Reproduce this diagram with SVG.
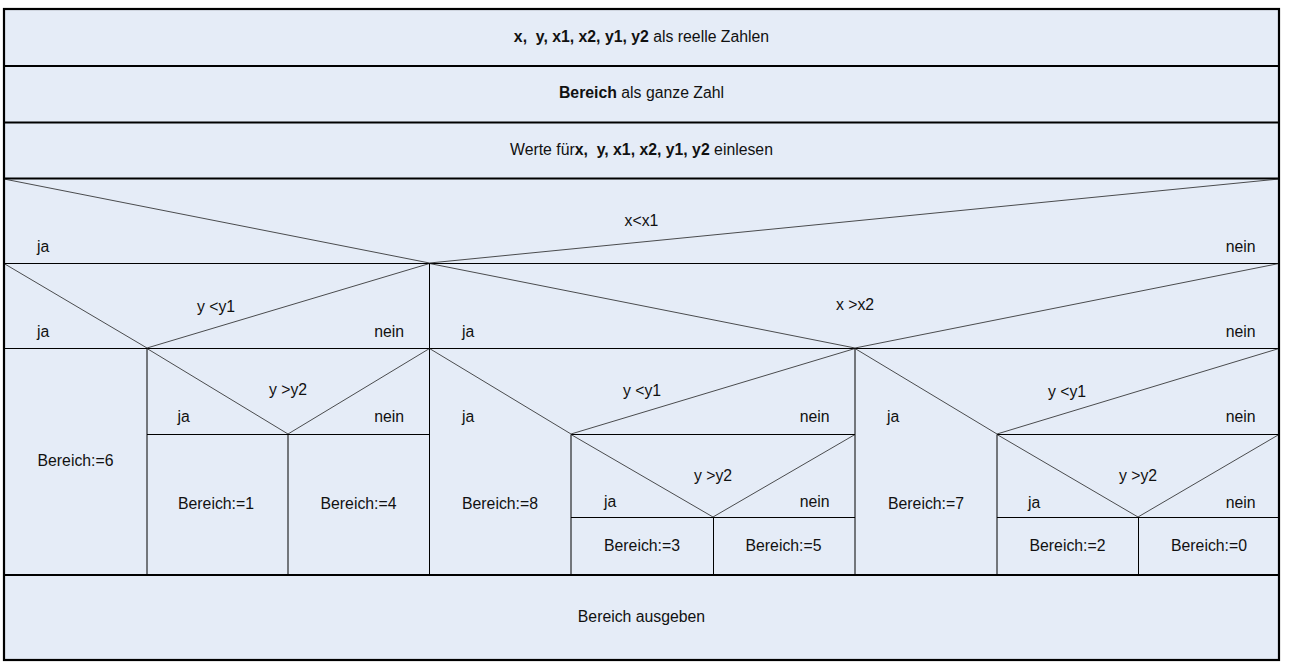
<svg xmlns="http://www.w3.org/2000/svg" width="1289" height="666" viewBox="0 0 1289 666">
<style>
text{font-family:"Liberation Sans",Arial,Helvetica,sans-serif;font-size:15.8px;fill:#111;}
.c{text-anchor:middle;}
.e{text-anchor:end;}
.b{font-weight:bold;}
.ln{stroke:#000;stroke-width:1;fill:none;}
.dg{stroke:#222;stroke-width:0.8;fill:none;}
.tk{stroke:#000;stroke-width:2.2;fill:none;}
</style>
<rect x="0" y="0" width="1289" height="666" fill="#ffffff"/>
<rect x="4" y="9" width="1275" height="651" fill="#e5ecf7"/>

<g id="decl1">
<text class="c" x="641.5" y="42" xml:space="preserve"><tspan class="b">x,  y, x1, x2, y1, y2</tspan> als reelle Zahlen</text>
</g>
<g id="decl2">
<line class="tk" x1="4" y1="66" x2="1279" y2="66"/>
<text class="c" x="641.5" y="98"><tspan class="b">Bereich</tspan> als ganze Zahl</text>
</g>
<g id="input">
<line class="tk" x1="4" y1="122.5" x2="1279" y2="122.5" stroke-width="2.6"/>
<text class="c" x="641.5" y="154.5" xml:space="preserve">Werte für<tspan class="b">x,  y, x1, x2, y1, y2</tspan> einlesen</text>
</g>

<g id="if-x-lt-x1">
<line class="tk" x1="4" y1="178.5" x2="1279" y2="178.5"/>
<line class="dg" x1="4" y1="179" x2="429.5" y2="263"/>
<line class="dg" x1="429.5" y1="263" x2="1279" y2="179"/>
<text class="c" x="641.5" y="226">x&lt;x1</text>
<text x="37" y="252">ja</text>
<text class="e" x="1255.5" y="252">nein</text>
<line class="ln" x1="4" y1="263.5" x2="1279" y2="263.5"/>
</g>

<g id="if-y-lt-y1-a">
<line class="dg" x1="4" y1="263.5" x2="147" y2="348"/>
<line class="dg" x1="147" y1="348" x2="429.5" y2="263.5"/>
<text class="c" x="216" y="311.5">y &lt;y1</text>
<text x="37" y="337">ja</text>
<text class="e" x="404" y="337">nein</text>
</g>

<g id="if-x-gt-x2">
<line class="ln" x1="429.5" y1="263.5" x2="429.5" y2="575"/>
<line class="dg" x1="429.5" y1="263.5" x2="855" y2="348"/>
<line class="dg" x1="855" y1="348" x2="1279" y2="263.5"/>
<text class="c" x="855" y="310">x &gt;x2</text>
<text x="462" y="337">ja</text>
<text class="e" x="1255.5" y="337">nein</text>
<line class="ln" x1="4" y1="348.5" x2="1279" y2="348.5"/>
</g>

<g id="set6">
<text class="c" x="75.5" y="466">Bereich:=6</text>
</g>

<g id="if-y-gt-y2-a">
<line class="ln" x1="147" y1="348.5" x2="147" y2="575"/>
<line class="dg" x1="147" y1="348.5" x2="288" y2="434"/>
<line class="dg" x1="288" y1="434" x2="429.5" y2="348.5"/>
<text class="c" x="288" y="395">y &gt;y2</text>
<text x="177.5" y="422">ja</text>
<text class="e" x="404" y="422">nein</text>
<line class="ln" x1="147" y1="434.5" x2="429.5" y2="434.5"/>
</g>
<g id="set1">
<text class="c" x="216" y="508.5">Bereich:=1</text>
</g>
<g id="set4">
<line class="ln" x1="288" y1="434.5" x2="288" y2="575"/>
<text class="c" x="358.5" y="508.5">Bereich:=4</text>
</g>

<g id="if-y-lt-y1-b">
<line class="dg" x1="429.5" y1="348.5" x2="571" y2="434"/>
<line class="dg" x1="571" y1="434" x2="855" y2="348.5"/>
<text class="c" x="642" y="396">y &lt;y1</text>
<text x="462" y="422">ja</text>
<text class="e" x="829.5" y="422">nein</text>
<line class="ln" x1="571" y1="434.5" x2="855" y2="434.5"/>
</g>
<g id="set8">
<line class="ln" x1="571" y1="434.5" x2="571" y2="575"/>
<text class="c" x="500" y="509">Bereich:=8</text>
</g>

<g id="if-y-gt-y2-b">
<line class="dg" x1="571" y1="434.5" x2="713" y2="517"/>
<line class="dg" x1="713" y1="517" x2="855" y2="434.5"/>
<text class="c" x="713" y="481">y &gt;y2</text>
<text x="604" y="507">ja</text>
<text class="e" x="829.5" y="507">nein</text>
<line class="ln" x1="571" y1="517.5" x2="855" y2="517.5"/>
</g>
<g id="set3">
<text class="c" x="642" y="551">Bereich:=3</text>
</g>
<g id="set5">
<line class="ln" x1="713.5" y1="517.5" x2="713.5" y2="575"/>
<text class="c" x="783.5" y="551">Bereich:=5</text>
</g>

<g id="if-y-lt-y1-c">
<line class="ln" x1="855" y1="348.5" x2="855" y2="575"/>
<line class="dg" x1="855" y1="348.5" x2="997" y2="434"/>
<line class="dg" x1="997" y1="434" x2="1279" y2="348.5"/>
<text class="c" x="1067" y="396.5">y &lt;y1</text>
<text x="887" y="422">ja</text>
<text class="e" x="1255.5" y="422">nein</text>
<line class="ln" x1="997" y1="434.5" x2="1279" y2="434.5"/>
</g>
<g id="set7">
<line class="ln" x1="997" y1="434.5" x2="997" y2="575"/>
<text class="c" x="926" y="508.5">Bereich:=7</text>
</g>

<g id="if-y-gt-y2-c">
<line class="dg" x1="997" y1="434.5" x2="1138" y2="517"/>
<line class="dg" x1="1138" y1="517" x2="1279" y2="434.5"/>
<text class="c" x="1138" y="480.5">y &gt;y2</text>
<text x="1028" y="507.5">ja</text>
<text class="e" x="1255.5" y="507.5">nein</text>
<line class="ln" x1="997" y1="517.5" x2="1279" y2="517.5"/>
</g>
<g id="set2">
<text class="c" x="1067.5" y="551">Bereich:=2</text>
</g>
<g id="set0">
<line class="ln" x1="1138.5" y1="517.5" x2="1138.5" y2="575"/>
<text class="c" x="1209" y="551">Bereich:=0</text>
</g>

<g id="output">
<line class="tk" x1="4" y1="575" x2="1279" y2="575"/>
<text class="c" x="641.5" y="622">Bereich ausgeben</text>
</g>

<g id="connectors"></g>

<rect x="4" y="9" width="1275" height="651" fill="none" stroke="#000" stroke-width="2.2"/>
</svg>
